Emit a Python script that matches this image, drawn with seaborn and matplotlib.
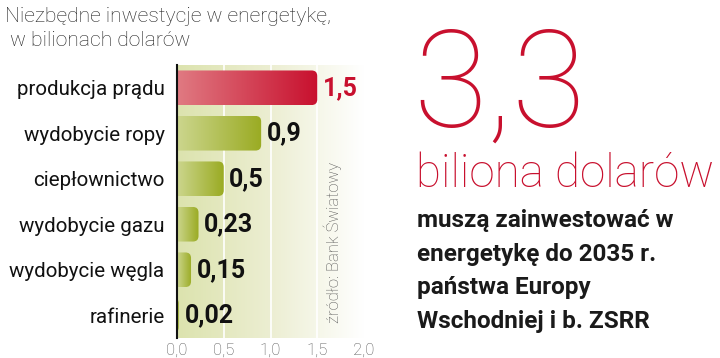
import numpy as np
import pandas as pd
import seaborn as sns
import matplotlib.pyplot as plt
from matplotlib.colors import LinearSegmentedColormap
from matplotlib.patches import FancyBboxPatch

# ====================================================
# DATA
# ====================================================

categories = [
    "produkcja prądu",
    "wydobycie ropy",
    "ciepłownictwo",
    "wydobycie gazu",
    "wydobycie węgla",
    "rafinerie",
]
values = [1.5, 0.9, 0.5, 0.23, 0.15, 0.02]
value_labels = ["1,5", "0,9", "0,5", "0,23", "0,15", "0,02"]
x_ticks = [0.0, 0.5, 1.0, 1.5, 2.0]
x_tick_labels = ["0,0", "0,5", "1,0", "1,5", "2,0"]

df = pd.DataFrame({"kategoria": categories, "wartosc": values})

RED = "#c8102e"

# ====================================================
# FIGURE
# ====================================================

sns.set_style("white")
plt.rcParams["font.family"] = ["Roboto", "DejaVu Sans"]

fig = plt.figure(figsize=(7.2, 3.58), dpi=100)
ax = fig.add_axes([177 / 720, 1 - 338 / 358, (364 - 177) / 720, (338 - 65) / 358])

sns.barplot(
    data=df,
    x="wartosc",
    y="kategoria",
    orient="h",
    width=0.76,
    color="#a8b63a",
    ax=ax,
    zorder=3,
)

ax.set_ylim(5.5, -0.5)
ax.set_xlim(0, 2.0)

# background gradient fading to white
bg_cmap = LinearSegmentedColormap.from_list("bg", ["#dce3ae", "#eceed2", "#ffffff"])
grad = np.linspace(0, 1, 256).reshape(1, -1)
ax.imshow(grad, extent=[0, 2.0, 5.5, -0.5], aspect="auto", cmap=bg_cmap, zorder=0)

for x in [0.5, 1.0, 1.5]:
    ax.axvline(x, color="white", lw=1.2, zorder=1)

# gradient fill inside bars, rounded right end
red_cmap = LinearSegmentedColormap.from_list("r", ["#e07a82", RED])
green_cmap = LinearSegmentedColormap.from_list("g", ["#ccd68e", "#9aab22"])
px_x = (364 - 177) / 2.0
px_y = (338 - 65) / 6.0
for i, patch in enumerate(list(ax.patches)):
    x0, y0 = patch.get_x(), patch.get_y()
    w, h = patch.get_width(), patch.get_height()
    patch.set_facecolor("none")
    patch.set_edgecolor("none")
    r = 0.06
    box = FancyBboxPatch(
        (x0 - 0.2, y0), w + 0.2, h,
        boxstyle=f"round,pad=0,rounding_size={r}",
        mutation_aspect=px_x / px_y,
        transform=ax.transData,
        facecolor="none", edgecolor="none",
    )
    ax.add_patch(box)
    cmap = red_cmap if i == 0 else green_cmap
    im = ax.imshow(
        grad,
        extent=[x0, x0 + w, y0 + h, y0],
        aspect="auto",
        cmap=cmap,
        zorder=2,
    )
    im.set_clip_path(box)

ax.set_ylim(5.5, -0.5)
ax.set_xlim(0, 2.0)

for i, (v, lab) in enumerate(zip(values, value_labels)):
    ax.text(
        v + 0.06, i, lab,
        va="center", ha="left",
        fontsize=18, fontweight="bold",
        color=RED if i == 0 else "#111111",
        zorder=4,
    )

ax.text(
    1.67, 3.41, "źródło: Bank Światowy",
    rotation=90, va="center", ha="center",
    fontsize=12, color="#555555", fontweight="light",
)

# axes styling
for s in ["top", "right", "bottom"]:
    ax.spines[s].set_visible(False)
ax.spines["left"].set_color("#111111")
ax.spines["left"].set_linewidth(1.5)
ax.set_xlabel("")
ax.set_ylabel("")
ax.set_xticks(x_ticks)
ax.set_xticklabels(x_tick_labels, color="#555555", fontsize=12, fontweight="light")
ax.tick_params(axis="x", length=0, pad=3)
ax.tick_params(axis="y", length=0, pad=9, labelsize=14.8, labelcolor="#111111")

# ====================================================
# TEXTS
# ====================================================

fig.text(5 / 720, 1 - 22 / 358, "Niezbędne inwestycje w energetykę,",
         ha="left", va="baseline", fontsize=15.2, fontweight="light", color="#222222")
fig.text(5 / 720, 1 - 46 / 358, " w bilionach dolarów",
         ha="left", va="baseline", fontsize=15.2, fontweight="light", color="#222222")

fig.text(413 / 720, 1 - 127 / 358, "3,3", ha="left", va="baseline",
         fontsize=97, fontweight="light", color=RED)
fig.text(416 / 720, 1 - 187 / 358, "biliona dolarów", ha="left", va="baseline",
         fontsize=33, fontweight="light", color=RED)

lines = [
    "muszą zainwestować w",
    "energetykę do 2035 r.",
    "państwa Europy",
    "Wschodniej i b. ZSRR",
]
for k, line in enumerate(lines):
    fig.text(417 / 720, 1 - (227 + 33.7 * k) / 358, line, ha="left", va="baseline",
             fontsize=17.5, fontweight="bold", color="#1a1a1a")

plt.savefig("out.png", dpi=100)
